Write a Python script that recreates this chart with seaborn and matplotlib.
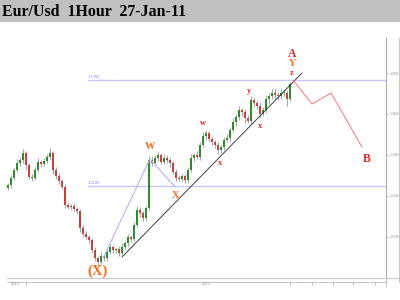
import matplotlib
matplotlib.use("Agg")
import matplotlib.pyplot as plt
from matplotlib.lines import Line2D
from matplotlib.patches import Rectangle
import seaborn as sns
import numpy as np
import pandas as pd

# ---------------- data ----------------
title = "Eur/Usd  1Hour  27-Jan-11"

close = [1.3253, 1.3288, 1.3327, 1.3361, 1.3375, 1.3410, 1.3351, 1.3292, 1.3288, 1.3327,
         1.3366, 1.3356, 1.3371, 1.3390, 1.3410, 1.3327, 1.3297, 1.3273, 1.3244, 1.3156,
         1.3146, 1.3151, 1.3136, 1.3127, 1.3044, 1.3014, 1.3000, 1.2985, 1.2936, 1.2897,
         1.2878, 1.2907, 1.2897, 1.2926, 1.2951, 1.2936, 1.2941, 1.2922, 1.2951, 1.2970,
         1.3000, 1.2990, 1.3058, 1.3131, 1.3117, 1.3092, 1.3141, 1.3375, 1.3361, 1.3385,
         1.3400, 1.3366, 1.3385, 1.3375, 1.3361, 1.3317, 1.3288, 1.3283, 1.3297, 1.3278,
         1.3327, 1.3385, 1.3400, 1.3390, 1.3449, 1.3493, 1.3507, 1.3478, 1.3463, 1.3449,
         1.3424, 1.3439, 1.3473, 1.3483, 1.3522, 1.3561, 1.3585, 1.3619, 1.3610, 1.3580,
         1.3566, 1.3668, 1.3654, 1.3639, 1.3600, 1.3619, 1.3673, 1.3688, 1.3702, 1.3693,
         1.3688, 1.3702, 1.3702, 1.3673, 1.3746]
first_open = 1.3240

wick_up = [12, 15, 10, 18, 14, 20, 10, 12, 16, 14,
           18, 10, 12, 15, 22, 10, 12, 14, 10, 12,
           15, 10, 14, 12, 10, 12, 14, 10, 12, 15,
           10, 18, 12, 14, 16, 10, 12, 14, 18, 12,
           15, 10, 14, 20, 16, 12, 10, 22, 18, 14,
           16, 12, 18, 14, 10, 12, 14, 16, 12, 10,
           14, 18, 12, 20, 16, 18, 14, 12, 16, 10,
           14, 12, 16, 18, 14, 20, 16, 18, 12, 14,
           16, 20, 14, 12, 18, 16, 22, 14, 18, 20,
           16, 22, 18, 14, 10]
wick_dn = [10, 14, 12, 10, 16, 12, 18, 10, 14, 12,
           10, 16, 12, 10, 14, 18, 12, 16, 10, 14,
           12, 16, 10, 14, 18, 12, 10, 16, 14, 12,
           18, 10, 14, 12, 10, 16, 12, 14, 10, 12,
           14, 16, 12, 10, 18, 14, 12, 10, 16, 12,
           14, 10, 12, 16, 18, 12, 14, 10, 12, 16,
           10, 12, 14, 10, 16, 12, 18, 14, 12, 16,
           18, 12, 14, 10, 16, 12, 20, 14, 18, 22,
           12, 16, 20, 14, 18, 12, 16, 22, 14, 18,
           20, 16, 14, 34, 12]

# wave / trend lines (bar index, price)
wx_path_x = [31.7, 47.3, 55.7]
wx_path_y = [1.2897, 1.3380, 1.3244]
trend_x = [38.0, 98.0]
trend_y = [1.2902, 1.3800]
proj_x = [95.0, 101.3, 107.7, 118.0]
proj_y = [1.3766, 1.3649, 1.3702, 1.3439]
hlevels = [1.3766, 1.3249]
hlevel_labels = ["1.3766", "1.3249"]

right_ticks = [1.30, 1.32, 1.34, 1.36, 1.38]
right_tick_labels = ["1.3000", "1.3200", "1.3400", "1.3600", "1.3800"]

# wave labels: text, bar index, price, colour key, size
wave_labels = [
    ("(X)", 29.7, 1.2834, "o", 10.5),
    ("W", 47.3, 1.3439, "o", 7.5),
    ("X", 55.7, 1.3200, "o", 7.5),
    ("w", 65.0, 1.3556, "r", 6),
    ("x", 70.7, 1.3361, "r", 6),
    ("y", 80.3, 1.3712, "r", 6),
    ("x", 84.0, 1.3541, "r", 6),
    ("A", 94.7, 1.3893, "r", 8.5),
    ("Y", 94.7, 1.3844, "o", 7),
    ("z", 94.7, 1.3800, "r", 6),
    ("B", 119.7, 1.3381, "r", 8.5),
]

# ---------------- figure ----------------
sns.set_style("white")
plt.rcParams["font.family"] = ["DejaVu Sans"]

W, H = 400, 300
fig = plt.figure(figsize=(4, 3), dpi=100)
fig.patch.set_facecolor("white")

# title band
fig.add_artist(Rectangle((0, 1 - 22 / H), 1, 22 / H, transform=fig.transFigure,
                         facecolor="#c0c0c0", edgecolor="none"))
fig.text(2 / W, 1 - 11.5 / H, title, family="Liberation Serif", weight="bold",
         fontsize=11.4, color="black", va="center", ha="left")

ax_l, ax_r, ax_t, ax_b = 7, 386, 38, 278
ax = fig.add_axes([ax_l / W, 1 - ax_b / H, (ax_r - ax_l) / W, (ax_b - ax_t) / H])
ax.set_facecolor("white")
ax.set_xlim(-0.333, 126.0)
ax.set_ylim(1.27996, 1.39708)

n = len(close)
idx = np.arange(n)
cl = np.array(close)
op = np.concatenate([[first_open], cl[:-1]])
hi = np.maximum(op, cl) + np.array(wick_up) * 1e-4
lo = np.minimum(op, cl) - np.array(wick_dn) * 1e-4

# horizontal levels
for lvl, lab in zip(hlevels, hlevel_labels):
    ax.plot([26.7, 126.0], [lvl, lvl], color="#c8c8f8", lw=1.0, zorder=1)
    ax.text(26.7, lvl + 0.0004, lab, fontsize=2.6, color="#8888d8", va="bottom", ha="left")

# candles
ax.vlines(idx, lo, hi, color="#a8a8a8", lw=0.8, zorder=2)
up = cl >= op
body_lo = np.minimum(op, cl)
body_h = np.maximum(np.abs(cl - op), 0.0004)
ax.bar(idx[up], body_h[up], bottom=body_lo[up], width=0.55, color="#2e8b2e",
       linewidth=0, zorder=3)
ax.bar(idx[~up], body_h[~up], bottom=body_lo[~up], width=0.55, color="#c84040",
       linewidth=0, zorder=3)

# wave lines
sns.lineplot(x=wx_path_x, y=wx_path_y, ax=ax, color="#b4b4f0", lw=0.8,
             sort=False, estimator=None, zorder=4)
sns.lineplot(x=trend_x, y=trend_y, ax=ax, color="#404040", lw=0.7,
             sort=False, estimator=None, zorder=4)
sns.lineplot(x=proj_x, y=proj_y, ax=ax, color="#f08a8a", lw=0.8,
             sort=False, estimator=None, zorder=4)

colors = {"o": "#ff6a1a", "r": "#e02828"}
for txt, x, y, c, s in wave_labels:
    ax.text(x, y, txt, color=colors[c], fontsize=s, family="Liberation Serif",
            weight="bold", ha="center", va="center", zorder=5)

# axes styling
for sp in ["top", "left", "bottom"]:
    ax.spines[sp].set_visible(False)
ax.spines["right"].set_color("#b0b0b0")
ax.spines["right"].set_linewidth(0.8)
ax.yaxis.tick_right()
ax.set_yticks(right_ticks)
ax.set_yticklabels(right_tick_labels)
ax.set_yticks(np.arange(1.284, 1.397, 0.004), minor=True)
ax.tick_params(axis="y", which="major", length=1.5, width=0.6, color="#b0b0b0",
               labelsize=2.3, labelcolor="#909090", pad=0.8)
ax.tick_params(axis="y", which="minor", length=1, width=0.5, color="#b0b0b0")
ax.set_xticks([])
ax.set_xlabel("")
ax.set_ylabel("")

# frame lines outside the axes
gc = "#c8c8c8"
def fline(x0, y0, x1, y1, lw=0.8):
    fig.add_artist(Line2D([x0 / W, x1 / W], [1 - y0 / H, 1 - y1 / H],
                          transform=fig.transFigure, color=gc, lw=lw))

fline(7, 278, 400, 278)
fline(7, 281.5, 386, 281.5)
fline(399, 38, 399, 282)
fline(386, 278, 386, 286)
for tx in [26, 290, 312, 333, 353, 375]:
    fline(tx, 281.5, tx, 285)
fig.text(15 / W, 1 - 284 / H, "2011", fontsize=2.6, color="#909090", ha="center", va="center")
fig.text(206 / W, 1 - 284 / H, "2011", fontsize=2.6, color="#909090", ha="center", va="center")

fig.savefig("out.png", dpi=100)
